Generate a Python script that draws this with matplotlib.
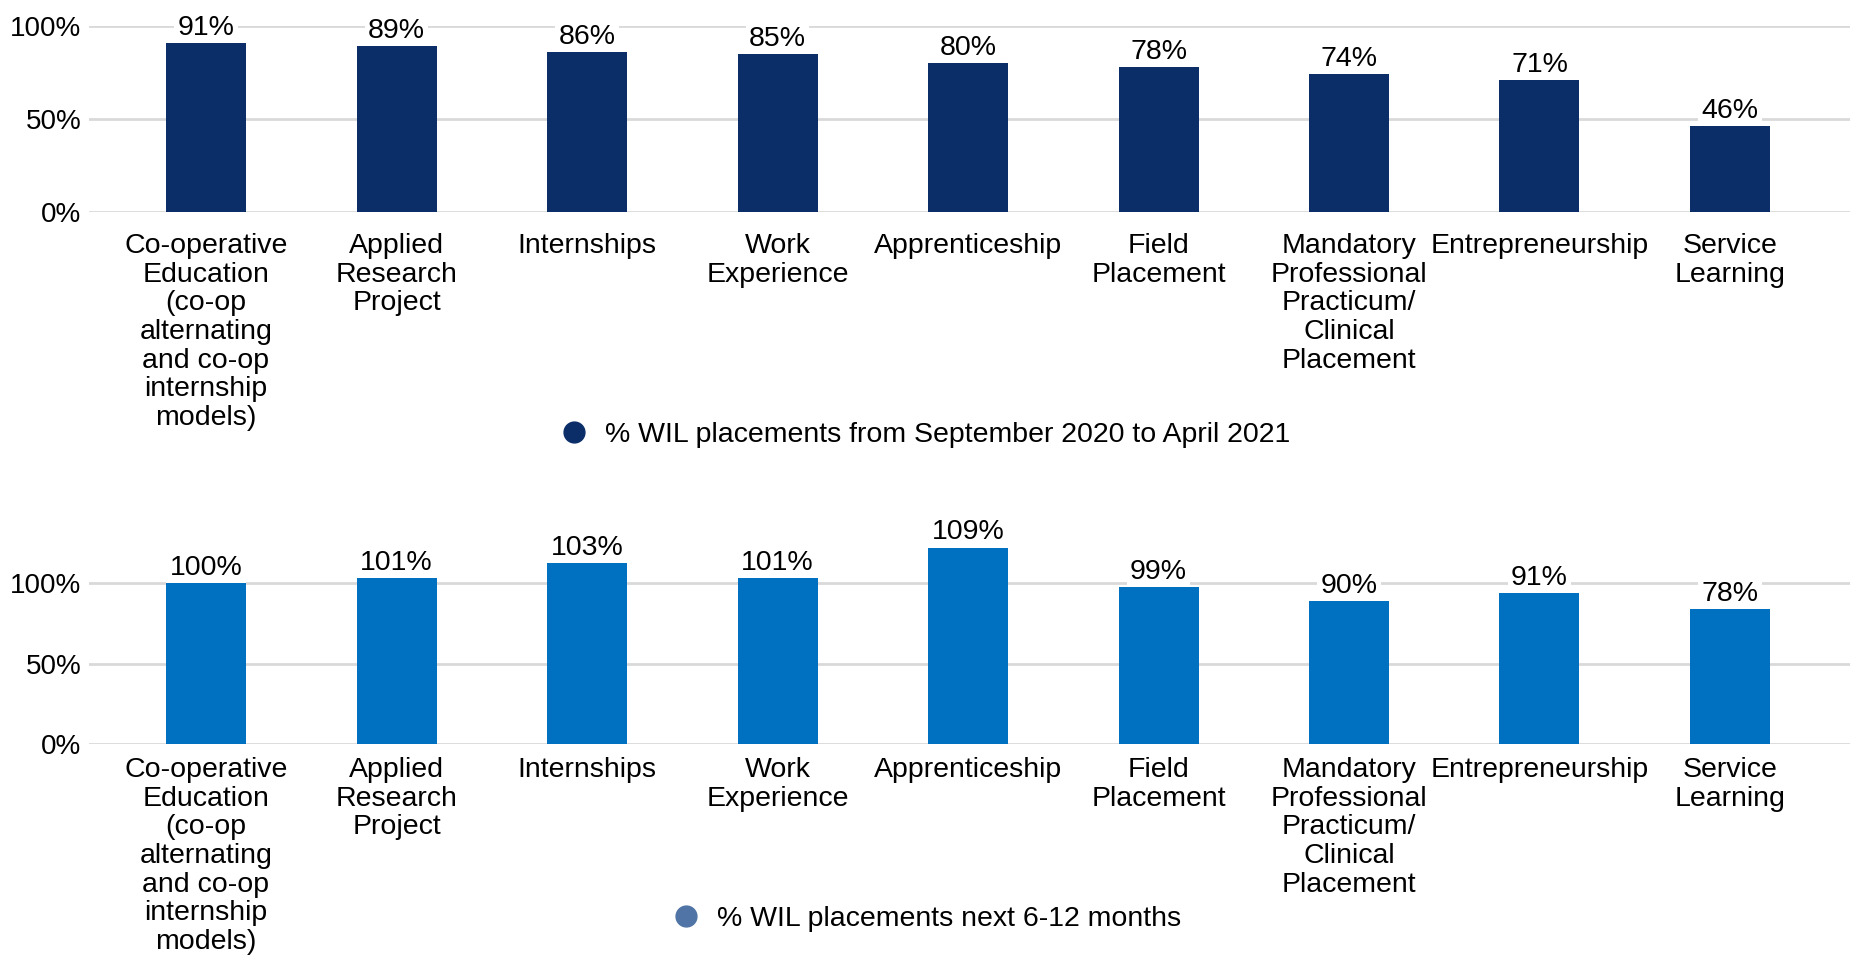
import matplotlib
matplotlib.use('Agg')
import matplotlib.pyplot as plt
from matplotlib.lines import Line2D

plt.rcParams['font.family'] = ['Liberation Sans', 'DejaVu Sans']

categories = [
    'Co-operative\nEducation\n(co-op\nalternating\nand co-op\ninternship\nmodels)',
    'Applied\nResearch\nProject',
    'Internships',
    'Work\nExperience',
    'Apprenticeship',
    'Field\nPlacement',
    'Mandatory\nProfessional\nPracticum/\nClinical\nPlacement',
    'Entrepreneurship',
    'Service\nLearning',
]

# September 2020 to April 2021
current_pct = [91, 89, 86, 85, 80, 78, 74, 71, 46]
current_labels = ['91%', '89%', '86%', '85%', '80%', '78%', '74%', '71%', '46%']

# next 6-12 months (bar heights as drawn, labels as printed)
next_pct = [100, 103, 112.5, 103, 122, 97.5, 89, 94, 84]
next_labels = ['100%', '101%', '103%', '101%', '109%', '99%', '90%', '91%', '78%']

dark_blue = '#0B2E69'
mid_blue = '#0070C0'
legend_blue2 = '#4F74A5'
grid_col = '#D9D9D9'

W, H = 1850, 957
fig = plt.figure(figsize=(W / 100, H / 100), dpi=100)

x = list(range(len(categories)))
fs = 20.5


def draw_panel(ax, values, labels, color, ymax, pad):
    ax.bar(x, values, width=0.42, color=color, zorder=3)
    ax.set_xlim(-0.617, 8.63)
    ax.set_ylim(0, ymax)
    ax.set_yticks([0, 50, 100])
    ax.set_yticklabels(['0%', '50%', '100%'], fontsize=20)
    ax.yaxis.grid(True, color=grid_col, linewidth=2, zorder=0)
    ax.set_axisbelow(True)
    for s in ax.spines.values():
        s.set_visible(False)
    ax.tick_params(axis='y', length=0, pad=5)
    ax.tick_params(axis='x', length=0, pad=pad)
    ax.set_xticks(x)
    ax.set_xticklabels(categories, fontsize=fs, linespacing=1.135, va='top')
    # labels sit above the grid but under the bars, so the white box
    # only hides the gridline
    for xi, v, lab in zip(x, values, labels):
        ax.annotate(lab, (xi, v), xytext=(0, 1.5), textcoords='offset points',
                    ha='center', va='bottom', fontsize=fs, zorder=2,
                    bbox=dict(boxstyle='square,pad=0.12', fc='white', ec='none'),
                    annotation_clip=False)


# top panel
ax1 = fig.add_axes([88.5 / W, 1 - 212 / H, 1 - 88.5 / W, (212 - 26) / H])
draw_panel(ax1, current_pct, current_labels, dark_blue, 100, 15)

# bottom panel
ax2 = fig.add_axes([88.5 / W, 1 - 744.3 / H, 1 - 88.5 / W, (744.3 - 534.6) / H])
draw_panel(ax2, next_pct, next_labels, mid_blue, 130, 9)

h1 = Line2D([], [], marker='o', linestyle='none', markersize=15, color=dark_blue)
fig.legend([h1], ['% WIL placements from September 2020 to April 2021'],
           loc='center', bbox_to_anchor=(0.496, 1 - 435 / H), frameon=False,
           fontsize=fs, handletextpad=0.1)

h2 = Line2D([], [], marker='o', linestyle='none', markersize=15, color=legend_blue2)
fig.legend([h2], ['% WIL placements next 6-12 months'],
           loc='center', bbox_to_anchor=(0.497, 1 - 919 / H), frameon=False,
           fontsize=fs, handletextpad=0.1)

fig.savefig('out.png', dpi=100)
